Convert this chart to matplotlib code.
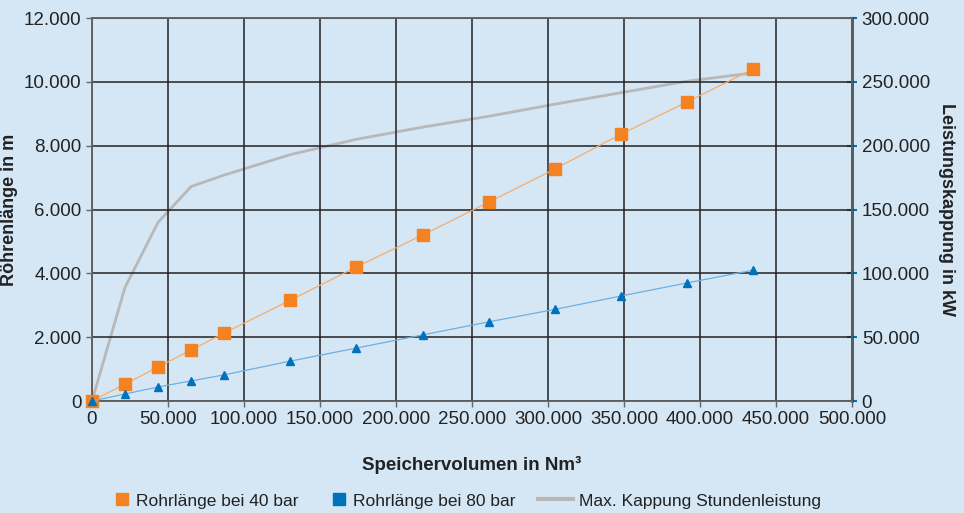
import matplotlib.pyplot as plt
from matplotlib.ticker import FuncFormatter
from matplotlib.lines import Line2D

plt.rcParams['font.family'] = ['Liberation Sans', 'DejaVu Sans']

volumen = [0, 21750, 43500, 65250, 87000, 130500, 174000, 217500, 261000, 304500, 348000, 391500, 435000]
rohr_40 = [0, 530, 1065, 1600, 2130, 3160, 4200, 5200, 6230, 7270, 8360, 9370, 10400]
rohr_80 = [0, 220, 440, 630, 820, 1250, 1660, 2070, 2480, 2870, 3290, 3700, 4100]
kappung = [0, 89000, 140000, 168000, 177000, 193000, 205000, 214500, 223000, 232500, 241500, 250500, 257000]

labels = ['Rohrlänge bei 40 bar', 'Rohrlänge bei 80 bar', 'Max. Kappung Stundenleistung']

bg = '#d5e6f5'
orange = '#f58220'
blue = '#0072bc'
grey = '#b8b8b8'


def dotfmt(v, pos):
    return '{:,.0f}'.format(v).replace(',', '.')


fig = plt.figure(figsize=(9.64, 5.13), dpi=100, facecolor=bg)
ax = fig.add_axes([0.0954, 0.2183, 0.7884, 0.7466])
ax2 = ax.twinx()

ax.set_zorder(2)
ax.patch.set_visible(False)
ax2.set_facecolor('white')
ax2.set_zorder(1)

ax.plot(volumen, rohr_40, color='#f9ac6a', lw=0.9, marker='s', ms=8.5,
        mfc=orange, mec=orange, zorder=4, clip_on=False)
ax.plot(volumen, rohr_80, color='#6eb0e2', lw=0.9, marker='^', ms=6,
        mfc=blue, mec=blue, zorder=4, clip_on=False)
ax2.plot(volumen, kappung, color=grey, lw=2, zorder=3)

ax.set_xlim(0, 500000)
ax.set_ylim(0, 12000)
ax2.set_ylim(0, 300000)
ax.set_xticks(range(0, 500001, 50000))
ax.set_yticks(range(0, 12001, 2000))
ax2.set_yticks(range(0, 300001, 50000))
for a in (ax, ax2):
    a.xaxis.set_major_formatter(FuncFormatter(dotfmt))
    a.yaxis.set_major_formatter(FuncFormatter(dotfmt))

ax2.grid(False)
ax.grid(True, color='#222222', lw=1.1)
ax.set_axisbelow(True)

ax.tick_params(axis='both', labelsize=13.5, length=4, width=1, color='#666666', labelcolor='#222222')
ax2.tick_params(axis='y', labelsize=13.5, color=blue, length=7, width=1.5, direction='inout', labelcolor='#222222')

for a in (ax, ax2):
    for s in a.spines.values():
        s.set_color('#666666')
        s.set_linewidth(1.2)
ax2.spines['right'].set_color('#333333')
ax2.spines['right'].set_linewidth(1.8)

ax.set_xlabel('Speichervolumen in Nm³', fontsize=13.5, fontweight='bold', color='#222222', labelpad=20)
ax.set_ylabel('Röhrenlänge in m', fontsize=13, fontweight='bold', color='#222222')
ax.yaxis.set_label_coords(-0.097, 0.5)
ax2.set_ylabel('Leistungskappung in kW', fontsize=13, fontweight='bold', color='#222222', rotation=270)
ax2.yaxis.set_label_coords(1.135, 0.5)

# legend: two marker entries and one line entry, like the original layout
marker_handles = [
    Line2D([], [], ls='none', marker='s', ms=8, mfc=orange, mec=orange),
    Line2D([], [], ls='none', marker='s', ms=8, mfc=blue, mec=blue),
]
fig.legend(marker_handles, labels[:2], loc='center left', bbox_to_anchor=(0.1195, 0.0234), ncol=2,
           frameon=False, fontsize=12.5, handlelength=0.8, handletextpad=0.4, columnspacing=1.95,
           borderpad=0, borderaxespad=0, labelcolor='#222222')
fig.legend([Line2D([], [], color=grey, lw=3)], labels[2:], loc='center left',
           bbox_to_anchor=(0.558, 0.0234), frameon=False, fontsize=12.5, handlelength=2.0,
           handletextpad=0.35, borderpad=0, borderaxespad=0, labelcolor='#222222')

fig.savefig('out.png', dpi=100, facecolor=bg)
